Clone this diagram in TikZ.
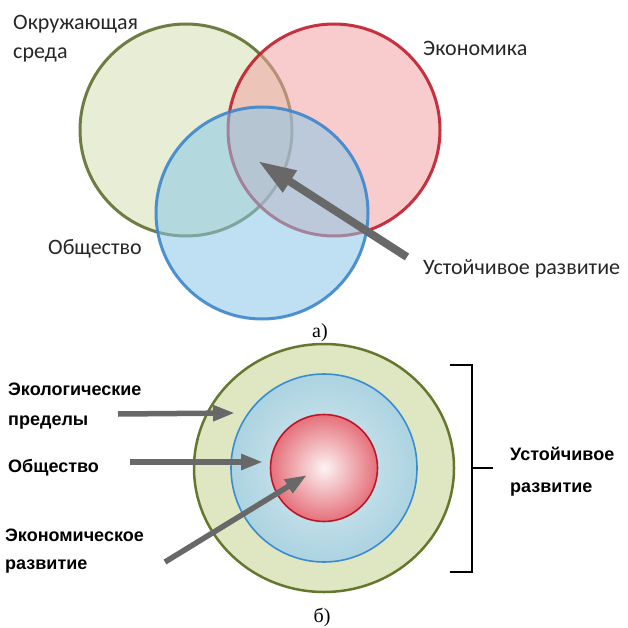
\documentclass[tikz,border=0pt]{standalone}
\usepackage{fontspec}
\setmainfont{Carlito}
\newfontfamily\boldsans{Liberation Sans}
\newfontfamily\capserif{Liberation Serif}
\usetikzlibrary{arrows.meta}

\definecolor{envline}{RGB}{95,112,48}
\definecolor{envfill}{RGB}{214,224,178}
\definecolor{ecoline}{RGB}{192,30,45}
\definecolor{ecofill}{RGB}{242,162,162}
\definecolor{socline}{RGB}{62,134,204}
\definecolor{socfill}{RGB}{137,199,231}
\definecolor{arrowgray}{RGB}{104,104,104}
\definecolor{lbltext}{RGB}{38,38,38}
\definecolor{ringgreen}{RGB}{222,231,194}
\definecolor{ringline}{RGB}{100,120,45}
\definecolor{bluein}{RGB}{214,235,241}
\definecolor{blueout}{RGB}{172,211,225}
\definecolor{blueline}{RGB}{58,140,208}
\definecolor{redin}{RGB}{252,244,244}
\definecolor{redout}{RGB}{229,112,122}
\definecolor{redline}{RGB}{190,22,40}

\begin{document}
\begin{tikzpicture}[x=1pt,y=-1pt,
  venn/.style={line width=3pt,fill opacity=0.55,draw opacity=0.9},
  lbl/.style={font=\fontsize{22}{29}\selectfont,text=lbltext,inner sep=0pt,align=left},
  boldlbl/.style={font=\boldsans\bfseries\fontsize{18}{30}\selectfont,inner sep=0pt,align=left},
  caplbl/.style={font=\capserif\fontsize{20}{24}\selectfont,inner sep=0pt},
  bigarrow/.style={arrowgray,line width=8pt,-{Triangle[length=38pt,width=24pt]}},
  smallarrow/.style={arrowgray,line width=5.5pt,-{Triangle[length=22pt,width=15pt]}}]
  \useasboundingbox (0,0) rectangle (628,628);

  % a) three overlapping circles
  \coordinate (env) at (186,130);
  \coordinate (eco) at (334,130);
  \coordinate (soc) at (262,213);
  \filldraw[venn,fill=envfill,draw=envline] (env) circle[radius=106pt];
  \filldraw[venn,fill=ecofill,draw=ecoline] (eco) circle[radius=106pt];
  \filldraw[venn,fill=socfill,draw=socline] (soc) circle[radius=106pt];

  % base of a two-line node is its last line
  \node[lbl,anchor=base west] (envLbl) at (13,59) {Окружающая\\среда};
  \node[lbl,anchor=base west] (ecoLbl) at (423,56) {Экономика};
  \node[lbl,anchor=base west] (socLbl) at (48,254) {Общество};
  \node[lbl,anchor=base west] (sdLbl) at (423,274) {Устойчивое развитие};

  \coordinate (sdTail) at (407,257);
  \coordinate (sdTip) at (258,161);
  \draw[bigarrow] (sdTail) -- (sdTip);

  \node[caplbl] (capA) at (320,333) {а)};

  % b) nested circles
  \coordinate (core) at (324,468);
  \filldraw[fill=ringgreen,draw=ringline,line width=2.5pt] (core) ellipse[x radius=130pt,y radius=124pt];
  \shade[inner color=bluein,outer color=blueout] (core) ellipse[x radius=93pt,y radius=94pt];
  \draw[blueline,line width=1.6pt] (core) ellipse[x radius=93pt,y radius=94pt];
  \shade[inner color=redin,outer color=redout] (core) circle[radius=53.5pt];
  \draw[redline,line width=1.6pt] (core) circle[radius=53.5pt];

  \node[boldlbl,anchor=base west] (limLbl) at (8,425) {Экологические\\пределы};
  \node[boldlbl,anchor=base west] (socLblB) at (8,472) {Общество};
  \node[boldlbl,anchor=base west,font=\boldsans\bfseries\fontsize{18}{28}\selectfont] (devLbl) at (5,569) {Экономическое\\развитие};

  \coordinate (limTail) at (118,414);
  \coordinate (limTip) at (235,413);
  \coordinate (socTail) at (130,462);
  \coordinate (socTip) at (263,462);
  \coordinate (devTail) at (165,562);
  \coordinate (devTip) at (307,475);
  \draw[smallarrow] (limTail) -- (limTip);
  \draw[smallarrow] (socTail) -- (socTip);
  \draw[smallarrow] (devTail) -- (devTip);

  % bracket
  \coordinate (brTop) at (472,365);
  \coordinate (brBot) at (472,572);
  \coordinate (brMid) at (472,468);
  \draw[line width=2.2pt] (450,365) -- (brTop) -- (brBot) -- (450,572);
  \draw[line width=2.2pt] (brMid) -- (493,468);
  \node[boldlbl,anchor=base west,font=\boldsans\bfseries\fontsize{18}{32}\selectfont] (sdLblB) at (510,492) {Устойчивое\\развитие};

  \node[caplbl] (capB) at (322,617) {б)};
\end{tikzpicture}
\end{document}
